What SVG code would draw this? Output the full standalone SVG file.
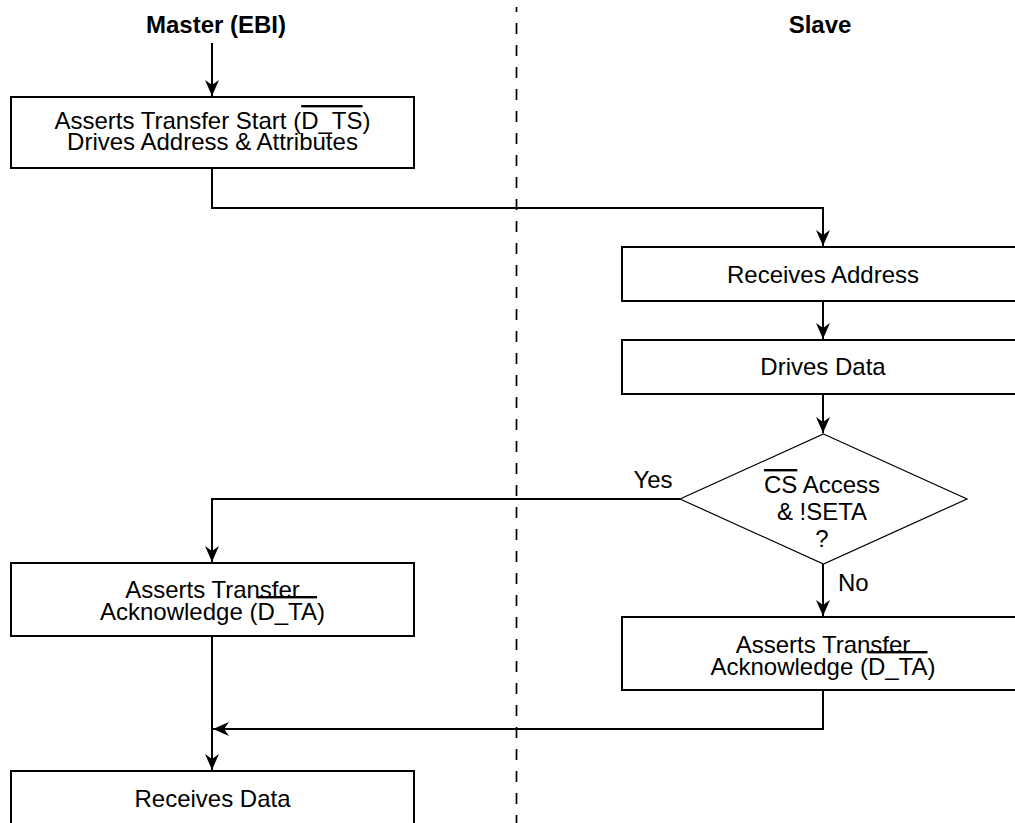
<svg xmlns="http://www.w3.org/2000/svg" width="1015" height="823" viewBox="0 0 1015 823">
<style>
.box{fill:#fff;stroke:#000;stroke-width:2}
.dia{fill:#fff;stroke:#000;stroke-width:1.2}
.t{font-family:"Liberation Sans",Arial,sans-serif;font-size:24px;fill:#000;text-anchor:middle}
.h{font-weight:bold}
.l{text-anchor:start}
.c{fill:none;stroke:#000;stroke-width:2}
.ov{text-decoration:overline}
</style>
<defs>
<marker id="ah" markerUnits="userSpaceOnUse" markerWidth="20" markerHeight="16" viewBox="-17 -8 18 16" refX="0" refY="0" orient="auto">
<path d="M0,0 L-16,-7 L-11,0 L-16,7 Z" fill="#000"/>
</marker>
</defs>
<rect width="1015" height="823" fill="#fff"/>
<g id="lane-divider">
<line x1="516.5" y1="7" x2="516.5" y2="823" stroke="#000" stroke-width="1.7" stroke-dasharray="11 11" stroke-dashoffset="6"/>
</g>
<g id="title-master"><text class="t h" x="216" y="33">Master (EBI)</text></g>
<g id="title-slave"><text class="t h" x="820" y="33">Slave</text></g>
<g id="connectors">
<path class="c" d="M212,43 V96" marker-end="url(#ah)"/>
<path class="c" d="M212,168 V208 H823 V246" marker-end="url(#ah)"/>
<path class="c" d="M823,301 V339" marker-end="url(#ah)"/>
<path class="c" d="M823,394 V433" marker-end="url(#ah)"/>
<path class="c" d="M680,499 H212 V562" marker-end="url(#ah)"/>
<path class="c" d="M823,564 V616" marker-end="url(#ah)"/>
<path class="c" d="M823,690 V729 H213" marker-end="url(#ah)"/>
<path class="c" d="M212,636 V770" marker-end="url(#ah)"/>
<text class="t" x="653" y="488">Yes</text>
<text class="t l" x="838" y="591">No</text>
</g>
<g id="n-assert-ts">
<rect class="box" x="11" y="97" width="403" height="71"/>
<text class="t" x="212.5" y="129">Asserts Transfer Start (<tspan class="ov">D_TS</tspan>)</text>
<text class="t" x="212.5" y="150">Drives Address &amp; Attributes</text>
</g>
<g id="n-recv-addr">
<rect class="box" x="622" y="247" width="403" height="54"/>
<text class="t" x="823" y="283">Receives Address</text>
</g>
<g id="n-drives-data">
<rect class="box" x="622" y="340" width="403" height="54"/>
<text class="t" x="823" y="375">Drives Data</text>
</g>
<g id="n-decision">
<polygon class="dia" points="823.5,434 967,499 823.5,564 680,499"/>
<text class="t" x="822" y="493"><tspan class="ov">CS</tspan> Access</text>
<text class="t" x="822" y="520">&amp; !SETA</text>
<text class="t" x="822" y="547">?</text>
</g>
<g id="n-assert-ta-master">
<rect class="box" x="11" y="563" width="403" height="73"/>
<text class="t" x="212.5" y="598">Asserts Transfer</text>
<text class="t" x="212.5" y="620">Acknowledge (<tspan class="ov">D_TA</tspan>)</text>
</g>
<g id="n-assert-ta-slave">
<rect class="box" x="622" y="617" width="403" height="73"/>
<text class="t" x="823" y="653">Asserts Transfer</text>
<text class="t" x="823" y="675">Acknowledge (<tspan class="ov">D_TA</tspan>)</text>
</g>
<g id="n-recv-data">
<rect class="box" x="11" y="771" width="403" height="70"/>
<text class="t" x="212.5" y="807">Receives Data</text>
</g>
</svg>
